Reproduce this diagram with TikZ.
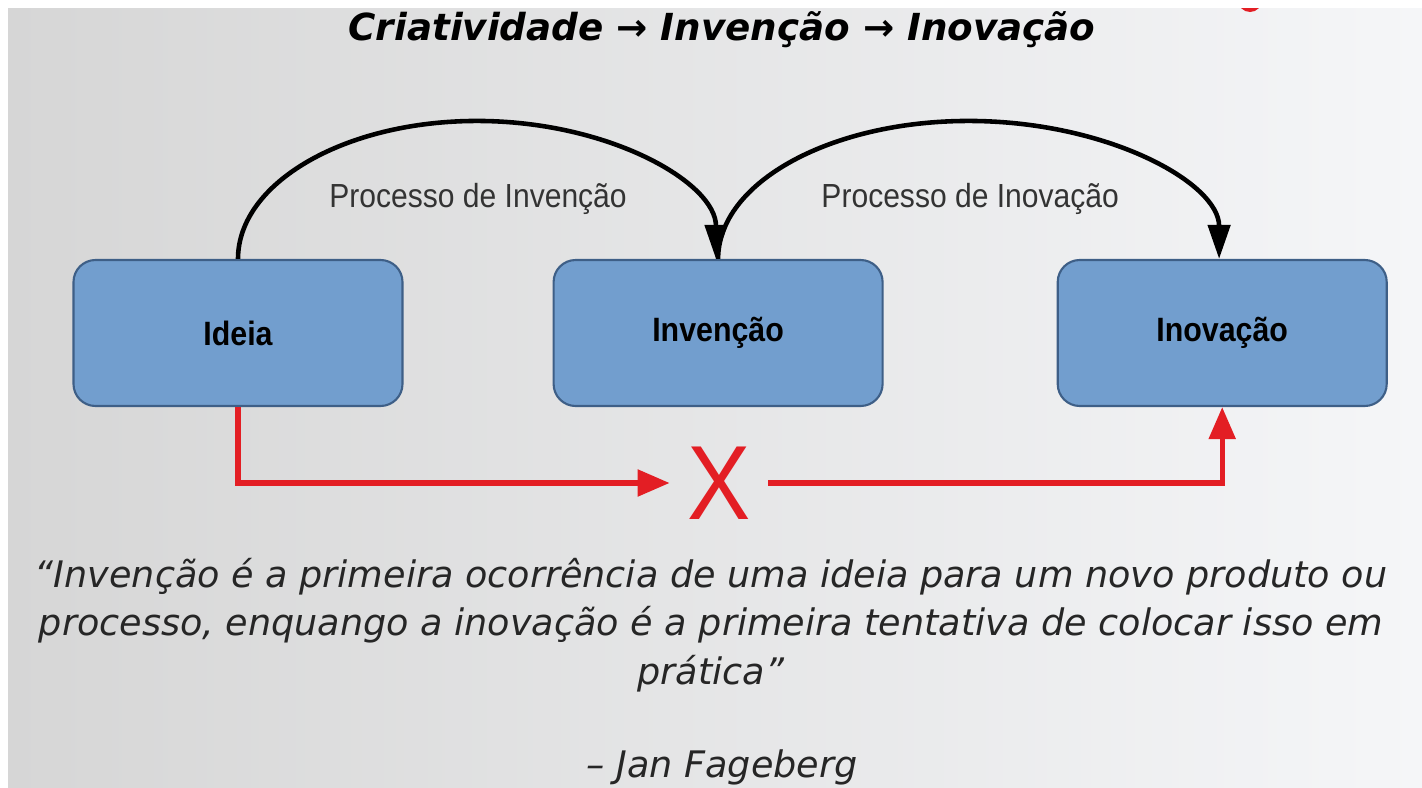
\documentclass[tikz,border=0pt]{standalone}
\usepackage{fontspec}
\usetikzlibrary{positioning,arrows.meta,calc}
\setmainfont{DejaVu Sans}
\newfontfamily\procfont{Liberation Sans}[FakeStretch=0.9]
\definecolor{boxblue}{RGB}{114,158,206}
\definecolor{boxline}{RGB}{62,95,135}
\definecolor{xred}{RGB}{227,30,36}
\definecolor{bgleft}{RGB}{214,214,214}
\definecolor{bgright}{RGB}{245,246,248}

\begin{document}
\begin{tikzpicture}
	\tikzstyle{etapa}=[rectangle, rounded corners=0.22cm, draw=boxline, line width=0.6pt, fill=boxblue, minimum width=3.29cm, minimum height=1.46cm, font=\procfont\bfseries\fontsize{9.6}{11}\selectfont]
	\tikzstyle{processo}=[black, line width=1.3pt, -{Triangle[length=0.34cm,width=0.22cm]}]
	\tikzstyle{rotulo}=[text=black!80, font=\procfont\fontsize{9.5}{11}\selectfont]
	\tikzstyle{atalho}=[xred, line width=1.5pt, -{Triangle[length=0.32cm,width=0.26cm]}]

	\useasboundingbox (0,0) rectangle (14.22,7.87);
	\fill[white] (0,0) rectangle (14.22,7.87);
	\shade[left color=bgleft, right color=bgright] (0.08,0) rectangle (14.22,7.79);
	\fill[xred] (12.5,7.87) circle (0.12);
	\fill[white] (0,7.79) rectangle (14.22,7.87);

	\node[font=\bfseries\itshape\fontsize{10.6}{12}\selectfont] (titulo) at (7.22,7.57) {Criatividade → Invenção → Inovação};

	\node[etapa] (ideia) at (2.38,4.54) {Ideia};
	\node[etapa, right=1.49cm of ideia] (invencao) {Invenção};
	\node[etapa, right=1.73cm of invencao] (inovacao) {Inovação};

	\draw[processo] (ideia.north) arc[start angle=180, end angle=0, x radius=2.39cm, y radius=1.38cm];
	\draw[processo] (invencao.north) arc[start angle=180, end angle=0, x radius=2.505cm, y radius=1.38cm];
	\node[rotulo] (rotinv) at ($(ideia.north)!0.5!(invencao.north)+(0,0.6)$) {Processo de Invenção};
	\node[rotulo] (rotinov) at ($(invencao.north)!0.5!(inovacao.north)+(0,0.6)$) {Processo de Inovação};

	\node[text=xred, font=\procfont\fontsize{30}{30}\selectfont, inner sep=0.17cm] (nox) at (7.19,3.04) {X};
	\draw[atalho] (ideia.south) |- (nox.west);
	\draw[atalho] (nox.east) -| (inovacao.south);

	\node[font=\itshape\fontsize{10.4}{13.8}\selectfont, align=center, text=black!85] (citacao) at (7.11,1.62) {“Invenção é a primeira ocorrência de uma ideia para um novo produto ou\\ processo, enquango a inovação é a primeira tentativa de colocar isso em\\ prática”};
	\node[font=\itshape\fontsize{10.4}{12}\selectfont, text=black!85] (autor) at (7.22,0.2) {– Jan Fageberg};
\end{tikzpicture}
\end{document}
